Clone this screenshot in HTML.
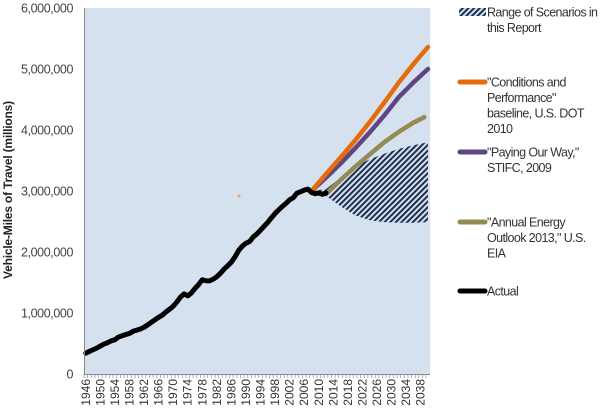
<!DOCTYPE html>
<html><head><meta charset="utf-8"><style>
body{margin:0;background:#fff;}
svg{display:block;font-family:"Liberation Sans",sans-serif;}
</style></head><body>
<svg id="chart" width="600" height="410" viewBox="0 0 600 410" xmlns="http://www.w3.org/2000/svg">
<defs>
<pattern id="hatch" patternUnits="userSpaceOnUse" width="4" height="4" patternTransform="rotate(45)">
<rect width="4" height="4" fill="#d5e1ef"/>
<rect width="2" height="4" fill="#1f2f4f"/>
</pattern>
</defs>
<rect x="84" y="8" width="346" height="366" fill="#d5e1ef"/>
<g id="hatchg"></g>
<g id="lines"></g>
<g id="axes"></g>
<g id="legend"></g>
<text transform="translate(12,190) rotate(-90)" text-anchor="middle" font-size="12" font-weight="bold" fill="#222" letter-spacing="-0.2">Vehicle-Miles of Travel (millions)</text>
</svg>
<script>
const actualYears = [];
for (let y = 1946; y <= 2012; y++) actualYears.push(y);
const actualValues = [341,371,398,424,458,491,514,544,562,606,628,647,665,700,719,738,767,805,847,888,930,964,1016,1062,1110,1179,1260,1313,1281,1328,1402,1467,1545,1529,1527,1555,1595,1653,1720,1774,1835,1921,2026,2096,2144,2172,2247,2296,2358,2423,2486,2562,2632,2691,2747,2797,2856,2890,2965,2989,3014,3031,2976,2957,2967,2946,2969];
const cpYears = [2008,2012,2016,2020,2024,2028,2032,2036,2040];
const cpValues = [3000,3280,3550,3830,4130,4450,4780,5080,5360];
const powYears = [2008,2012,2016,2020,2024,2028,2032,2036,2040];
const powValues = [3000,3220,3450,3700,3960,4240,4540,4780,5000];
const aeoYears = [2012,2016,2020,2024,2028,2032,2036,2039];
const aeoValues = [2950,3180,3400,3600,3800,3970,4120,4210];
const rangeYears = [2008,2012,2016,2020,2024,2028,2032,2036,2040];
const rangeHigh = [3000,3030,3220,3400,3520,3610,3690,3750,3800];
const rangeLow = [3000,2920,2750,2600,2520,2490,2480,2480,2490];
const yTicks = [0,1000000,2000000,3000000,4000000,5000000,6000000];
const yTickLabels = ["0","1,000,000","2,000,000","3,000,000","4,000,000","5,000,000","6,000,000"];

const NS = "http://www.w3.org/2000/svg";
const X = yr => 85.8 + (yr - 1946) * 3.64;
const Y = v => 374 - v / 6000000 * 366;
const Yk = v => Y(v * 1000);
function mk(tag, attrs, parent) {
  const e = document.createElementNS(NS, tag);
  for (const k in attrs) e.setAttribute(k, attrs[k]);
  parent.appendChild(e);
  return e;
}
const axes = document.getElementById('axes');
const lines = document.getElementById('lines');
const hatchg = document.getElementById('hatchg');
const legend = document.getElementById('legend');

let d = rangeYears.map((y, i) => (i ? 'L' : 'M') + X(y) + ',' + Yk(rangeHigh[i])).join('');
for (let i = rangeYears.length - 1; i >= 0; i--) d += 'L' + X(rangeYears[i]) + ',' + Yk(rangeLow[i]);
const area = mk('path', {d: d + 'Z', fill: 'url(#hatch)'}, hatchg);



function line(xs, vs, color, w, name) {
  const p = mk('path', {d: xs.map((y, i) => (i ? 'L' : 'M') + X(y) + ',' + Yk(vs[i])).join(''), fill: 'none', stroke: color, 'stroke-width': w, 'stroke-linejoin': 'round', 'stroke-linecap': 'round'}, lines);
  
  
}
line(aeoYears, aeoValues, '#948a54', 4.5, 'aeo-2013-line');
line(powYears, powValues, '#5f4582', 4.5, 'paying-our-way-line');
line(cpYears, cpValues, '#e46c0a', 4.5, 'conditions-performance-line');
line(actualYears, actualValues, '#000', 5, 'actual-line');
const dot = mk('circle', {cx: 239, cy: 196, r: 1.5, fill: '#f0a070'}, lines);



const ya = mk('line', {x1: 84.5, y1: 8, x2: 84.5, y2: 374, stroke: '#888', 'stroke-width': 1}, axes);


const xa = mk('line', {x1: 84, y1: 374.5, x2: 430, y2: 374.5, stroke: '#888', 'stroke-width': 1}, axes);


yTicks.forEach((v, i) => {
  const t = mk('text', {x: 73, y: Y(v) + 4.5, 'text-anchor': 'end', 'font-size': 12.5, 'letter-spacing': -0.4, fill: '#444'}, axes);
  t.textContent = yTickLabels[i];
  
  
});
for (let yr = 1946; yr <= 2040; yr++) {
  const tk = mk('line', {x1: X(yr) - 1.82, y1: 374, x2: X(yr) - 1.82, y2: 378, stroke: '#999', 'stroke-width': 0.8}, axes);
  
  
  if ((yr - 1946) % 4 === 0) {
    const t = mk('text', {transform: `translate(${X(yr) + 4},379) rotate(-90)`, 'text-anchor': 'end', 'font-size': 12, fill: '#333'}, axes);
    t.textContent = yr;
    
    
  }
}

const entries = [
  {y: 12, lines: ['Range of Scenarios in', 'this Report'], hatch: true, name: 'legend-range'},
  {y: 82, lines: ['"Conditions and', 'Performance"', 'baseline, U.S. DOT', '2010'], color: '#e46c0a', name: 'legend-conditions-performance'},
  {y: 152, lines: ['"Paying Our Way,"', 'STIFC, 2009'], color: '#5f4582', name: 'legend-paying-our-way'},
  {y: 222, lines: ['"Annual Energy', 'Outlook 2013," U.S.', 'EIA'], color: '#948a54', name: 'legend-aeo'},
  {y: 291, lines: ['Actual'], color: '#000', name: 'legend-actual'}
];
entries.forEach(en => {
  const g = mk('g', {}, legend);
  
  
  if (en.hatch) mk('rect', {x: 459, y: en.y - 4, width: 27, height: 8, fill: 'url(#hatch)'}, g);
  else mk('line', {x1: 460, y1: en.y, x2: 485, y2: en.y, stroke: en.color, 'stroke-width': 5, 'stroke-linecap': 'round'}, g);
  en.lines.forEach((s, i) => {
    const t = mk('text', {x: 487, y: en.y + 4.5 + i * 15.5, 'font-size': 12.5, 'letter-spacing': -0.6, fill: '#333'}, g);
    t.textContent = s;
  });
});
</script>
</body></html>
